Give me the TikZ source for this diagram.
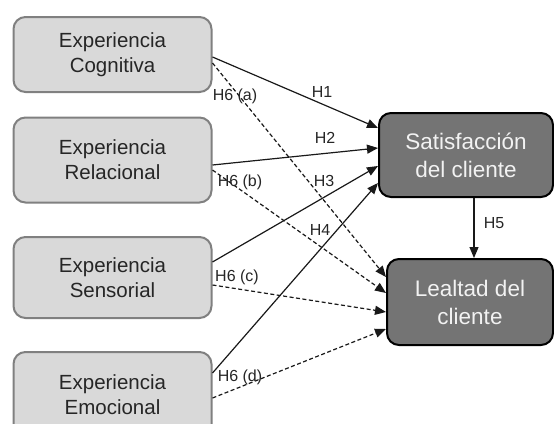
\documentclass[tikz,border=0pt]{standalone}
\usepackage{fontspec}
\setmainfont{Liberation Sans}
\usetikzlibrary{arrows.meta}
\definecolor{lightbox}{HTML}{D9D9D9}
\definecolor{lightborder}{HTML}{808080}
\definecolor{darkbox}{HTML}{747474}
\definecolor{txtdark}{HTML}{262626}
\definecolor{txtlight}{HTML}{F2F2F2}
\tikzset{
  expbox/.style={draw=lightborder, fill=lightbox, line width=2pt, rounded corners=12pt,
    minimum width=198pt, align=center, text=txtdark, inner sep=0pt,
    font=\fontsize{20.5}{25}\selectfont},
  resbox/.style={draw=black, fill=darkbox, line width=2pt, rounded corners=12pt,
    align=center, text=txtlight, inner sep=0pt,
    font=\fontsize{22.5}{28}\selectfont},
  hyp/.style={-{Triangle[length=11pt,width=9pt]}, line width=1.2pt, draw=black!90},
  hypd/.style={hyp, dash pattern=on 4pt off 2.5pt},
  lab/.style={text=txtdark, font=\fontsize{16}{18}\selectfont, inner sep=0pt}
}
\begin{document}
\begin{tikzpicture}[x=1pt,y=-1pt]
\useasboundingbox (0,0) rectangle (554,423);
\clip (0,0) rectangle (554,423);
\fill[white] (0,0) rectangle (554,423);
% left boxes
\node[expbox, minimum height=75pt] (c1) at (112.5,54.5) {Experiencia\\Cognitiva};
\node[expbox, minimum height=85pt] (c2) at (112.5,160) {Experiencia\\Relacional};
\node[expbox, minimum height=81pt] (c3) at (112.5,277.5) {Experiencia\\Sensorial};
\node[expbox, minimum height=86pt] (c4) at (112.5,395) {Experiencia\\Emocional};
% right boxes
\node[resbox, minimum width=174pt, minimum height=84pt] (sat) at (466,155) {Satisfacción\\del cliente};
\node[resbox, minimum width=166pt, minimum height=86pt] (leal) at (470,302) {Lealtad del\\cliente};
% arrows
\draw[hyp]  ([yshift=-2.5pt]c1.east) -- ([yshift=27pt]sat.west);
\draw[hypd] ([yshift=-8.5pt]c1.east) -- ([yshift=25pt]leal.west);
\draw[hyp]  ([yshift=-5pt]c2.east) -- ([yshift=7pt]sat.west);
\draw[hypd] ([yshift=-10pt]c2.east) -- ([yshift=9pt]leal.west);
\draw[hyp]  ([yshift=15.5pt]c3.east) -- ([yshift=-11pt]sat.west);
\draw[hypd] ([yshift=-7.5pt]c3.east) -- ([yshift=-10pt]leal.west);
\draw[hyp]  ([yshift=22pt]c4.east) -- ([yshift=-28pt]sat.west);
\draw[hypd] ([yshift=-3pt]c4.east) -- ([yshift=-27pt]leal.west);
\draw[hyp]  ([xshift=8pt]sat.south) -- ([xshift=4pt]leal.north);
% labels
\node[lab] (l1) at (322,92) {H1};
\node[lab] (l2) at (325,138) {H2};
\node[lab] (l3) at (324,181) {H3};
\node[lab] (l4) at (320,230) {H4};
\node[lab] (l5) at (494,223) {H5};
\node[lab] (l6a) at (235,96) {H6 (a)};
\node[lab] (l6b) at (240,182) {H6 (b)};
\node[lab] (l6c) at (237,277) {H6 (c)};
\node[lab] (l6d) at (240,377) {H6 (d)};
\end{tikzpicture}
\end{document}
